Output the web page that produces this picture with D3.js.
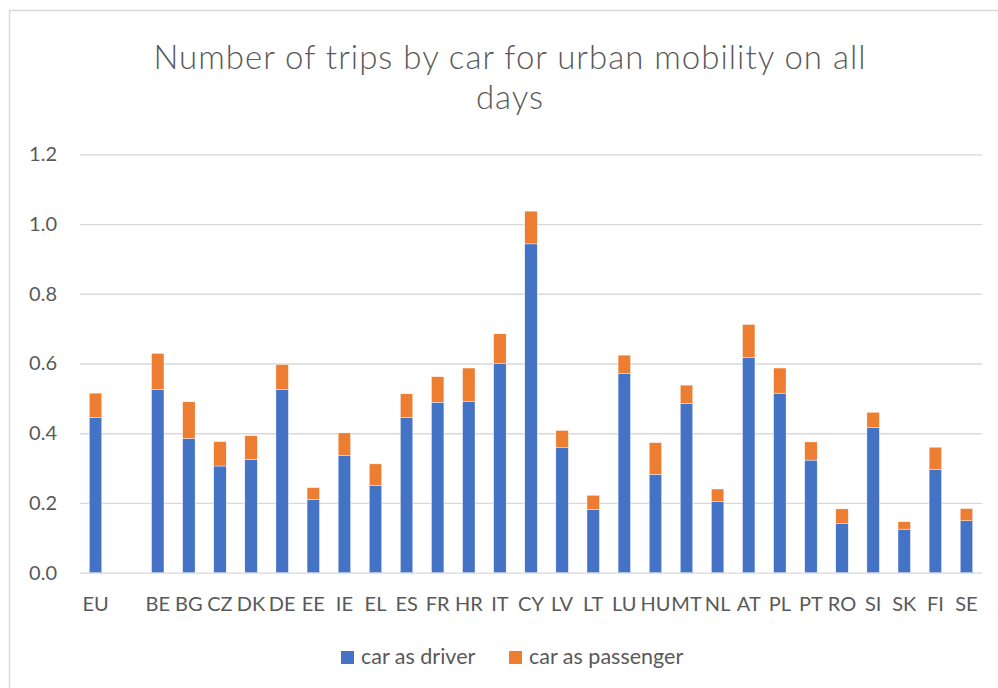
<!DOCTYPE html>
<html>
<head>
<meta charset="utf-8">
<script src="https://cdn.jsdelivr.net/npm/d3@7"></script>
<style>
    body { margin: 0; background: #fff; }
    svg { display: block; font-family: Lato, "Open Sans", sans-serif; }
</style>
</head>
<body>
<svg id="chart" width="998" height="688"></svg>
<script>
// Data (trips per person per day)
let countries = ["EU", "", "BE", "BG", "CZ", "DK", "DE", "EE", "IE", "EL", "ES", "FR", "HR", "IT", "CY",
    "LV", "LT", "LU", "HU", "MT", "NL", "AT", "PL", "PT", "RO", "SI", "SK", "FI", "SE"]

let driver = [0.445, null, 0.526, 0.385, 0.306, 0.325, 0.526, 0.210, 0.337, 0.250, 0.446, 0.489, 0.492, 0.601, 0.943,
    0.360, 0.181, 0.571, 0.282, 0.486, 0.205, 0.617, 0.515, 0.323, 0.142, 0.417, 0.125, 0.296, 0.149]

let passenger = [0.070, null, 0.103, 0.105, 0.070, 0.068, 0.071, 0.034, 0.064, 0.062, 0.067, 0.073, 0.095, 0.084, 0.094,
    0.048, 0.041, 0.053, 0.091, 0.052, 0.035, 0.095, 0.072, 0.052, 0.041, 0.043, 0.021, 0.064, 0.035]

let yTicks = [0, 0.2, 0.4, 0.6, 0.8, 1.0, 1.2]

let seriesNames = ["car as driver", "car as passenger"],
    colors = ["#4472C4", "#ED7D31"]

let svg = d3.select("#chart"),
    textColor = "#595959",
    gridColor = "#D9D9D9"

// chart border
svg.append("rect")
    .attr("x", 9.5)
    .attr("y", 10.5)
    .attr("width", 1000)
    .attr("height", 700)
    .attr("fill", "#fff")
    .attr("stroke", gridColor)
    .attr("stroke-width", 1.5)

// Title (two lines, wrapped as in the original)
let title = svg.append("text")
    .attr("text-anchor", "middle")
    .attr("fill", textColor)
    .style("font-size", "33px")
    .style("font-weight", 300)
    .style("letter-spacing", "1px")

title.append("tspan").attr("x", 510).attr("y", 69).text("Number of trips by car for urban mobility on all")
title.append("tspan").attr("x", 510).attr("y", 109).text("days")

// Scales
let xScale = d3.scaleBand()
    .domain(countries.map((d, i) => i))
    .range([80, 982])
    .paddingInner(0.6)
    .paddingOuter(0.3)

let yScale = d3.scaleLinear()
    .domain([0, 1.2])
    .range([572.7, 154.3])

// Gridlines + y labels
let yAxis = svg.append("g")
    .attr("transform", "translate(80,0)")
    .call(d3.axisLeft(yScale)
        .tickValues(yTicks)
        .tickFormat(d3.format(".1f"))
        .tickSize(-902)
        .tickPadding(23))

yAxis.select(".domain").remove()
yAxis.selectAll(".tick line")
    .attr("stroke", gridColor)
    .attr("stroke-width", 1.3)
yAxis.selectAll(".tick text")
    .attr("fill", textColor)
    .style("font-size", "20px")
    .style("font-family", "Lato, 'Open Sans', sans-serif")

// Stacked bars
let rows = countries.map((c, i) => ({ i: i, driver: driver[i], passenger: passenger[i] }))
    .filter(d => d.driver !== null)

let stacked = d3.stack().keys(["driver", "passenger"])(rows)

svg.append("g")
    .selectAll("g")
    .data(stacked)
    .enter()
    .append("g")
    .attr("fill", (d, k) => colors[k])
    .selectAll("rect")
    .data(d => d)
    .enter()
    .append("rect")
    .attr("x", d => xScale(d.data.i))
    .attr("width", xScale.bandwidth())
    .attr("y", d => yScale(d[1]))
    .attr("height", d => yScale(d[0]) - yScale(d[1]))
    .attr("stroke", "#fff")
    .attr("stroke-width", 0.4)

// x labels
let xAxis = svg.append("g")
    .attr("transform", "translate(0,572.7)")
    .call(d3.axisBottom(xScale)
        .tickFormat(i => countries[i])
        .tickSize(0)
        .tickPadding(24))

xAxis.select(".domain").remove()
xAxis.selectAll(".tick text")
    .attr("fill", textColor)
    .style("font-size", "20px")
    .style("font-family", "Lato, 'Open Sans', sans-serif")

// Legend
let legendX = [341, 509]

let legend = svg.append("g")
    .selectAll("g")
    .data(seriesNames)
    .enter()
    .append("g")
    .attr("transform", (d, k) => `translate(${legendX[k]}, 651)`)

legend.append("rect")
    .attr("width", 13)
    .attr("height", 13)
    .attr("fill", (d, k) => colors[k])

legend.append("text")
    .attr("x", 20)
    .attr("y", 12.5)
    .attr("fill", textColor)
    .style("font-size", "21.5px")
    .text(d => d)
</script>
</body>
</html>
